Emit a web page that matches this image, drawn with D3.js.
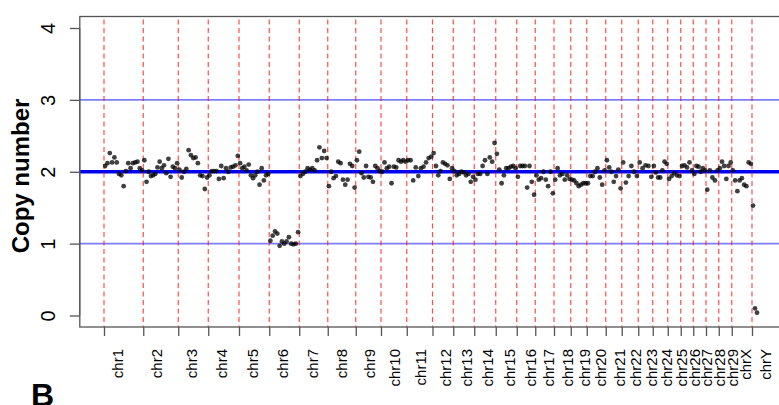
<!DOCTYPE html>
<html>
<head>
<meta charset="utf-8">
<script src="https://cdn.jsdelivr.net/npm/d3@7"></script>
<style>
  body { margin: 0; background: #fff; }
  svg { display: block; font-family: "Liberation Sans", Arial, sans-serif; }
</style>
</head>
<body>
<div id="chart"></div>
<script>
var chromNames = ['chr1','chr2','chr3','chr4','chr5','chr6','chr7','chr8','chr9','chr10',
  'chr11','chr12','chr13','chr14','chr15','chr16','chr17','chr18','chr19','chr20',
  'chr21','chr22','chr23','chr24','chr25','chr26','chr27','chr28','chr29','chrX','chrY'];
var chromSizes = [157,140,120,123,121,120,114,112,101,103,
  103,83,84,86,84,74,75,67,64,76,
  64,66,58,60,52,50,51,51,52,81,24];

// copy number estimates, one list per chromosome
var copyNumber = [
  [2.08,2.12,2.26,2.13,2.20,2.13,1.97,1.95,1.80,2.01,2.12,2.05,2.12,2.13,2.14,2.05,2.02],
  [2.16,1.86,2.00,1.94,1.95,1.97,2.06,2.14,2.05,2.09,1.98,2.18,1.93,2.07,2.05,2.12],
  [2.03,1.92,2.00,2.04,2.30,2.23,2.19,2.20,2.12,1.95,1.94,1.76,1.92],
  [1.95,2.01,2.01,2.01,1.90,2.08,1.91,2.05,2.00,2.06,2.07,2.09,2.22],
  [2.12,2.05,2.07,2.02,2.10,1.95,1.91,1.95,2.00,1.82,2.05,1.88,1.95,1.97],
  [1.04,1.11,1.17,1.14,0.97,1.03,1.00,1.03,1.09,1.00,0.99,1.00,1.16],
  [1.94,1.97,2.00,2.05,2.03,2.05,2.02,2.16,2.34,2.19,2.29,2.19],
  [1.80,2.00,1.91,1.94,2.14,2.12,1.89,1.82,1.89,2.11,2.08,1.78],
  [2.16,2.28,1.98,1.92,2.08,1.93,1.92,1.86,2.08,2.05,2.01],
  [2.00,2.13,2.05,2.07,1.84,2.07,2.06,2.16,2.14,2.16,2.14],
  [2.16,2.16,1.88,2.06,1.94,2.05,2.07,2.13,2.19,2.21],
  [2.26,2.08,1.95,2.01,2.13,2.11,2.09,1.90,2.05],
  [2.01,1.95,1.97,2.00,1.99,1.95,1.97,1.86,1.93],
  [1.89,1.97,1.97,2.08,2.16,1.97,2.20,2.14,2.40],
  [2.25,2.03,1.84,1.95,2.05,2.05,2.07,2.08,2.05],
  [1.93,2.08,2.08,2.08,1.78,2.08,1.86,1.68],
  [1.95,1.89,1.91,2.00,1.89,1.80,2.00,1.70],
  [1.89,2.05,1.95,1.97,1.89,1.95,1.90],
  [1.89,1.88,1.84,1.80,1.82,1.84,1.84],
  [1.84,1.94,1.94,2.00,2.05,1.92,1.82,2.02],
  [2.16,2.06,2.00,1.86,1.94,2.03,1.77],
  [2.13,1.85,1.94,2.08,2.00,1.94],
  [2.13,2.05,2.09,2.08,1.93],
  [2.08,1.99,1.92,1.92,2.02,2.14,2.11],
  [1.90,1.94,1.98,1.95,1.94],
  [2.08,2.09,2.06,2.13,2.02],
  [1.97,2.08,2.07,2.00,2.05,2.02],
  [1.75,2.02,1.92,1.88,2.02],
  [2.05,2.14,2.08,1.90,2.08,2.13],
  [2.02,1.88,1.73,1.88,1.91,1.82,1.80,2.13,2.11],
  [1.53,0.10,0.04]
];

var yTicks = [0, 1, 2, 3, 4];
var thinLines = [1, 3];
var normalLevel = 2;

var width = 779, height = 405;

// chromosome start offsets
var starts = [];
var total = 0;
chromSizes.forEach(function(s) { starts.push(total); total += s; });

var x = d3.scaleLinear().domain([0, total]).range([104, 758]);
var y = d3.scaleLinear().domain([0, 4]).range([315.5, 28]);

// plot box padding like R (4%)
var padX = (x.range()[1] - x.range()[0]) * 0.037;
var box = {
  left: x(0) - padX,
  right: x(total) + padX,
  top: y(4.16),
  bottom: y(-0.16)
};

// flatten points
var points = [];
copyNumber.forEach(function(vals, c) {
  vals.forEach(function(v, i) {
    points.push({ pos: starts[c] + (i + 0.5) / vals.length * chromSizes[c], value: v });
  });
});

var svg = d3.select('#chart').append('svg')
  .attr('width', width)
  .attr('height', height);

svg.append('rect')
  .attr('width', width)
  .attr('height', height)
  .attr('fill', '#fff');

// reference lines
svg.selectAll('.thin')
  .data(thinLines)
  .enter().append('line')
  .attr('x1', box.left).attr('x2', box.right)
  .attr('y1', function(d) { return y(d); })
  .attr('y2', function(d) { return y(d); })
  .attr('stroke', '#7d7dff')
  .attr('stroke-width', 1.6);

svg.append('line')
  .attr('x1', box.left).attr('x2', box.right)
  .attr('y1', y(normalLevel)).attr('y2', y(normalLevel))
  .attr('stroke', '#0000f0')
  .attr('stroke-width', 3.5);

// chromosome boundaries
svg.selectAll('.bound')
  .data(starts)
  .enter().append('line')
  .attr('class', 'bound')
  .attr('x1', function(d) { return x(d); })
  .attr('x2', function(d) { return x(d); })
  .attr('y1', box.top + 3)
  .attr('y2', box.bottom)
  .attr('stroke', 'rgba(255,0,0,0.7)')
  .attr('stroke-width', 1.2)
  .attr('stroke-dasharray', '5,3.5');

// points
svg.selectAll('.pt')
  .data(points)
  .enter().append('circle')
  .attr('class', 'pt')
  .attr('cx', function(d) { return x(d.pos); })
  .attr('cy', function(d) { return y(d.value); })
  .attr('r', 2.4)
  .attr('fill', '#000')
  .attr('fill-opacity', 0.75);

// frame
svg.append('rect')
  .attr('x', box.left)
  .attr('y', box.top)
  .attr('width', box.right - box.left)
  .attr('height', box.bottom - box.top)
  .attr('fill', 'none')
  .attr('stroke', '#555')
  .attr('stroke-width', 1.3);

// y axis
var yAxis = svg.append('g')
  .attr('transform', 'translate(' + box.left + ',0)')
  .call(d3.axisLeft(y).tickValues(yTicks).tickSize(10).tickFormat(d3.format('d')));
yAxis.select('.domain').attr('stroke', '#555').attr('d', 'M0,' + y(0) + 'V' + y(4));
yAxis.selectAll('.tick line').attr('stroke', '#555').attr('stroke-width', 1.3);
yAxis.selectAll('.tick text')
  .attr('x', null).attr('dy', null)
  .attr('transform', 'translate(-25,0) rotate(-90)')
  .attr('text-anchor', 'middle')
  .attr('fill', '#000')
  .style('font-size', '20px');

svg.append('text')
  .attr('transform', 'translate(29,' + 176 + ') rotate(-90)')
  .attr('text-anchor', 'middle')
  .style('font-size', '24px')
  .style('font-weight', 'bold')
  .text('Copy number');

// x axis: ticks on chromosome starts, labels just to the right
var xAxis = svg.append('g')
  .attr('transform', 'translate(0,' + box.bottom + ')')
  .call(d3.axisBottom(x).tickValues(starts).tickSize(9).tickFormat(function(d, i) { return chromNames[i]; }));
xAxis.select('.domain').remove();
xAxis.selectAll('.tick line').attr('stroke', '#555').attr('stroke-width', 1.3);
xAxis.selectAll('.tick text')
  .attr('y', null).attr('dy', null)
  .attr('transform', 'translate(13,22) rotate(-90)')
  .attr('dy', '0.35em')
  .attr('text-anchor', 'end')
  .attr('fill', '#000')
  .style('font-size', '15px');

// panel letter
svg.append('text')
  .attr('x', 31)
  .attr('y', 406)
  .style('font-size', '32px')
  .style('font-weight', 'bold')
  .text('B');
</script>
</body>
</html>
